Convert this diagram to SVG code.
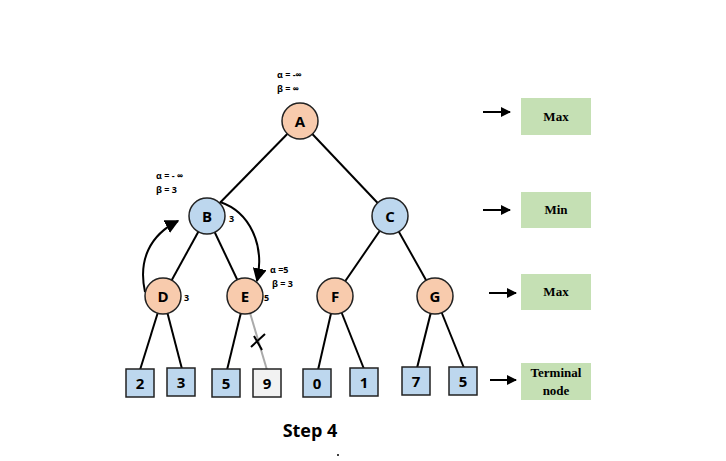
<svg xmlns="http://www.w3.org/2000/svg" width="726" height="461" viewBox="0 0 726 461">
<style>
.e{stroke:#000;stroke-width:2;fill:none}
.mx{fill:#f8cbad;stroke:#222;stroke-width:1.5}
.mn{fill:#bdd7ee;stroke:#222;stroke-width:1.5}
.lf{fill:#bdd7ee;stroke:#222;stroke-width:1.5}
.t{font-family:"Open Sans","DejaVu Sans",sans-serif;font-weight:bold;font-size:15px;text-anchor:middle;dominant-baseline:central}
.s{font-family:"Open Sans","DejaVu Sans",sans-serif;font-weight:bold;font-size:9px}
.g{fill:#c5e0b4}
.gt{font-family:"Liberation Serif",serif;font-weight:bold;font-size:13px;text-anchor:middle}
</style>
<defs><marker id="ah" viewBox="0 0 10 10" refX="9" refY="5" markerWidth="5" markerHeight="5" orient="auto"><path d="M0,0L10,5L0,10z" fill="#000"/></marker>
<marker id="bh" viewBox="0 0 10 10" refX="9" refY="5" markerWidth="7" markerHeight="7" orient="auto"><path d="M0,0L10,5L0,10z" fill="#000"/></marker></defs>
<rect width="726" height="461" fill="#fff"/>
<g id="connectors">
<line class="e" x1="300" y1="121" x2="207" y2="216"/>
<line class="e" x1="300" y1="121" x2="390" y2="216"/>
<line class="e" x1="207" y1="216" x2="163" y2="296"/>
<line class="e" x1="207" y1="216" x2="245" y2="296"/>
<line class="e" x1="390" y1="216" x2="335" y2="296"/>
<line class="e" x1="390" y1="216" x2="435" y2="296"/>
<line class="e" x1="163" y1="296" x2="140" y2="370"/>
<line class="e" x1="163" y1="296" x2="182" y2="369"/>
<line class="e" x1="245" y1="296" x2="227" y2="370"/>
<line x1="245" y1="296" x2="267" y2="370" stroke="#aaa" stroke-width="2"/>
<line class="e" x1="335" y1="296" x2="318" y2="370"/>
<line class="e" x1="335" y1="296" x2="364" y2="369"/>
<line class="e" x1="435" y1="296" x2="417" y2="368"/>
<line class="e" x1="435" y1="296" x2="464" y2="368"/>
<path class="e" stroke-width="1.5" d="M251,347 L265,334 M254,336 L262,350"/>
<path class="e" stroke-width="1.5" d="M145,292 C138,260 150,235 178,221" marker-end="url(#bh)"/>
<path class="e" stroke-width="1.5" d="M220,202 C250,212 265,245 257,281" marker-end="url(#bh)"/>
<line class="e" x1="483" y1="112" x2="510" y2="112" marker-end="url(#ah)"/>
<line class="e" x1="483" y1="210" x2="510" y2="210" marker-end="url(#ah)"/>
<line class="e" x1="489" y1="293" x2="516" y2="293" marker-end="url(#ah)"/>
<line class="e" x1="490" y1="380" x2="516" y2="380" marker-end="url(#ah)"/>
</g>
<g id="A"><circle class="mx" cx="300" cy="121" r="18"/><text class="t" x="300" y="121">A</text>
<text class="s" x="277" y="78">α = -∞</text><text class="s" x="277" y="92">β = ∞</text></g>
<g id="B"><circle class="mn" cx="207" cy="216" r="18"/><text class="t" x="207" y="216">B</text><text class="s" x="229" y="222" font-size="13">3</text>
<text class="s" x="156" y="179">α = - ∞</text><text class="s" x="156" y="193">β = 3</text></g>
<g id="C"><circle class="mn" cx="390" cy="216" r="18"/><text class="t" x="390" y="216">C</text></g>
<g id="D"><circle class="mx" cx="163" cy="296" r="18"/><text class="t" x="163" y="296">D</text><text class="s" x="184" y="301" font-size="13">3</text></g>
<g id="E"><circle class="mx" cx="245" cy="296" r="18"/><text class="t" x="245" y="296">E</text><text class="s" x="264" y="301" font-size="13">5</text>
<text class="s" x="270" y="273" font-weight="normal" font-size="8.5">α =5</text><text class="s" x="272" y="287" font-weight="normal" font-size="8.5">β =  3</text></g>
<g id="F"><circle class="mx" cx="335" cy="296" r="18"/><text class="t" x="335" y="296">F</text></g>
<g id="G"><circle class="mx" cx="435" cy="296" r="18"/><text class="t" x="435" y="296">G</text></g>
<g id="L1"><rect class="lf" x="126" y="369" width="28" height="28"/><text class="t" x="140" y="383">2</text></g>
<g id="L2"><rect class="lf" x="167" y="368" width="28" height="28"/><text class="t" x="181" y="382">3</text></g>
<g id="L3"><rect class="lf" x="212" y="369" width="28" height="28"/><text class="t" x="226" y="383">5</text></g>
<g id="L4"><rect x="253" y="369" width="28" height="28" fill="#f2f2f2" stroke="#222" stroke-width="1.5"/><text class="t" x="267" y="383">9</text></g>
<g id="L5"><rect class="lf" x="303" y="369" width="28" height="28"/><text class="t" x="317" y="383">0</text></g>
<g id="L6"><rect class="lf" x="350" y="368" width="28" height="28"/><text class="t" x="364" y="382">1</text></g>
<g id="L7"><rect class="lf" x="402" y="367" width="28" height="28"/><text class="t" x="416" y="381">7</text></g>
<g id="L8"><rect class="lf" x="449" y="367" width="28" height="28"/><text class="t" x="463" y="381">5</text></g>
<g id="lMax1"><rect class="g" x="521" y="98" width="70" height="37"/><text class="gt" x="556" y="121">Max</text></g>
<g id="lMin"><rect class="g" x="521" y="192" width="70" height="36"/><text class="gt" x="556" y="214">Min</text></g>
<g id="lMax2"><rect class="g" x="521" y="274" width="70" height="36"/><text class="gt" x="556" y="296">Max</text></g>
<g id="lTerm"><rect class="g" x="521" y="363" width="70" height="37"/><text class="gt" x="556" y="377">Terminal</text><text class="gt" x="556" y="395">node</text></g>
<text x="310" y="437" font-family="'Open Sans','DejaVu Sans',sans-serif" font-weight="bold" font-size="18" text-anchor="middle">Step 4</text>
<circle cx="338" cy="455" r="1" fill="#000"/>
</svg>
